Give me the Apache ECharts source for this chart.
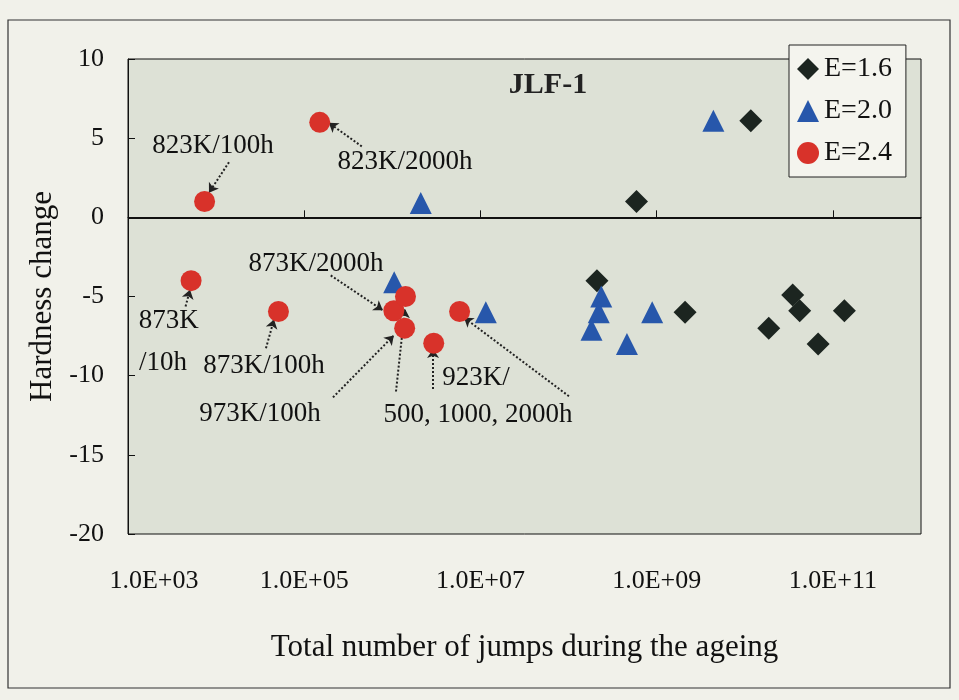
<!DOCTYPE html>
<html>
<head>
<meta charset="utf-8">
<script src="https://cdn.jsdelivr.net/npm/echarts@6/dist/echarts.min.js"></script>
<style>
html,body{margin:0;padding:0;background:#f1f1ea;}
#c{width:959px;height:700px;}
</style>
</head>
<body>
<div id="c"></div>
<script>
// ---- data ----
const seriesNames = ['E=1.6', 'E=2.0', 'E=2.4'];

const e16X = [2.1e8, 5.9e8, 2.1e9, 1.17e10, 1.87e10, 3.5e10, 4.2e10, 6.8e10, 1.35e11];
const e16Y = [-4.0, 1.0, -6.0, 6.1, -7.0, -4.9, -5.9, -8.0, -5.9];

const e20X = [1.05e6, 2.1e6, 1.15e7, 2.35e8, 2.2e8, 1.82e8, 4.6e8, 8.9e8, 4.4e9];
const e20Y = [-4.1, 0.9, -6.0, -5.0, -6.0, -7.1, -8.0, -6.0, 6.1];

const e24X = [5.2e3, 7.4e3, 5.1e4, 1.5e5, 1.04e6, 1.41e6, 1.38e6, 2.95e6, 5.8e6];
const e24Y = [-4.0, 1.0, -5.95, 6.0, -5.9, -5.0, -7.0, -7.95, -5.95];

const xLabelValues = [1e3, 1e5, 1e7, 1e9, 1e11];
const xTickValues = [1e5, 1e7, 1e9, 1e11];
const yTickLabels = ['-20', '-15', '-10', '-5', '0', '5', '10'];

const chartTitle = 'JLF-1';
const xName = 'Total number of jumps during the ageing';
const yName = 'Hardness change';

// annotations (in data coordinates)
const annoTexts = ['823K/100h', '823K/2000h', '873K/2000h', '873K', '/10h', '873K/100h', '973K/100h', '923K/', '500, 1000, 2000h'];
const annoX = [9.2e3, 1.39e6, 1.36e5, 2.9e3, 2.5e3, 3.5e4, 3.15e4, 8.9e6, 9.4e6];
const annoY = [4.5, 3.5, -2.96, -6.53, -9.17, -9.41, -12.43, -10.12, -12.45];
const arrowFrom = [[1.4e4, 3.48], [4.5e5, 4.48], [2.0e5, -3.67], [4.5e3, -5.63], [3.68e4, -8.27], [2.12e5, -11.37], [1.1e6, -11.0], [2.9e6, -10.84], [1.01e8, -11.3]];
const arrowTo = [[8.3e3, 1.56], [1.9e5, 5.97], [7.8e5, -5.87], [5.06e3, -4.57], [4.54e4, -6.45], [1.04e6, -7.46], [1.39e6, -5.77], [2.9e6, -8.32], [6.5e6, -6.33]];

// ---- chart ----
const FONT = '"Liberation Serif", "Times New Roman", serif';
const pair = (xs, ys) => xs.map((x, i) => [x, ys[i]]);
const expOf = v => Math.round(Math.log10(v));
const pad2 = n => (n < 10 ? '0' : '') + n;

const chart = echarts.init(document.getElementById('c'), null, {renderer: 'canvas'});

const option = {
  backgroundColor: '#f1f1ea',
  animation: false,
  textStyle: {fontFamily: FONT, color: '#111'},
  grid: {
    left: 128, top: 59, right: 38, bottom: 166,
    show: true, backgroundColor: '#dde1d6', borderColor: '#111', borderWidth: 1
  },
  xAxis: {
    type: 'log', logBase: 10, min: 1e3, max: 1e12,
    name: xName, nameLocation: 'middle', nameGap: 98,
    nameTextStyle: {fontFamily: FONT, fontSize: 31, color: '#111'},
    axisLine: {show: true, lineStyle: {color: '#111', width: 1}},
    axisTick: {show: true, inside: true, length: 7, lineStyle: {color: '#111'}, customValues: xTickValues},
    axisLabel: {
      customValues: xLabelValues,
      margin: 34, fontFamily: FONT, fontSize: 26, color: '#111',
      formatter: v => {
        const e = expOf(v);
        const s = '1.0E+' + pad2(e);
        return e === 3 ? '{f|' + s + '}' : s;
      },
      rich: {f: {padding: [0, 0, 0, 52], fontFamily: FONT, fontSize: 26, color: '#111'}}
    },
    splitLine: {show: false}
  },
  yAxis: {
    type: 'value', min: -20, max: 10, interval: 5,
    name: yName, nameLocation: 'middle', nameGap: 70,
    nameTextStyle: {fontFamily: FONT, fontSize: 31, color: '#111'},
    axisLine: {show: true, lineStyle: {color: '#111', width: 1}},
    axisTick: {show: true, inside: true, length: 7, lineStyle: {color: '#111'}},
    axisLabel: {
      margin: 24, fontFamily: FONT, fontSize: 26, color: '#111',
      formatter: v => yTickLabels[Math.round((v + 20) / 5)]
    },
    splitLine: {show: false}
  },
  legend: {
    data: seriesNames,
    orient: 'vertical', left: 789, top: 45,
    padding: [9, 14, 9, 8], itemGap: 12,
    itemWidth: 22, itemHeight: 22,
    backgroundColor: '#f4f4ee', borderColor: '#222', borderWidth: 1,
    textStyle: {fontFamily: FONT, fontSize: 28, lineHeight: 30, color: '#111'}
  },
  series: [
    {
      name: seriesNames[0], type: 'scatter', symbol: 'diamond', symbolSize: 23,
      itemStyle: {color: '#1c2520', opacity: 1}, data: pair(e16X, e16Y), z: 3,
      markLine: {
        silent: true, symbol: ['none', 'none'], label: {show: false},
        lineStyle: {color: '#111', type: 'solid', width: 2, opacity: 1},
        data: [{yAxis: 0}]
      }
    },
    {
      name: seriesNames[1], type: 'scatter', symbol: 'triangle', symbolSize: [22, 22],
      itemStyle: {color: '#2757ab', opacity: 1}, data: pair(e20X, e20Y), z: 4
    },
    {
      name: seriesNames[2], type: 'scatter', symbol: 'circle', symbolSize: 21,
      itemStyle: {color: '#d8322a', opacity: 1}, data: pair(e24X, e24Y), z: 5
    },
    {
      name: 'annotations', type: 'scatter', symbolSize: 0, silent: true, z: 6,
      itemStyle: {opacity: 1},
      data: annoTexts.map((t, i) => ({name: t, value: [annoX[i], annoY[i]]})),
      label: {
        show: true, position: 'inside', formatter: p => p.name,
        fontFamily: FONT, fontSize: 27, color: '#111', opacity: 1
      },
      markLine: {
        silent: true, symbol: ['none', 'arrow'], symbolSize: 9,
        label: {show: false},
        lineStyle: {color: '#222', type: 'dotted', width: 2, opacity: 1},
        data: arrowFrom.map((f, i) => [{coord: f}, {coord: arrowTo[i]}])
      }
    }
  ],
  graphic: [
    {
      type: 'rect', z: -10, silent: true,
      shape: {x: 8, y: 20, width: 942, height: 668},
      style: {fill: null, stroke: '#333', lineWidth: 1.2}
    },
    {
      type: 'text', x: 548, y: 85, z: 10, silent: true,
      style: {text: chartTitle, align: 'center', verticalAlign: 'middle',
              font: 'bold 30px ' + FONT, fill: '#222'}
    }
  ]
};

chart.setOption(option);
</script>
</body>
</html>
